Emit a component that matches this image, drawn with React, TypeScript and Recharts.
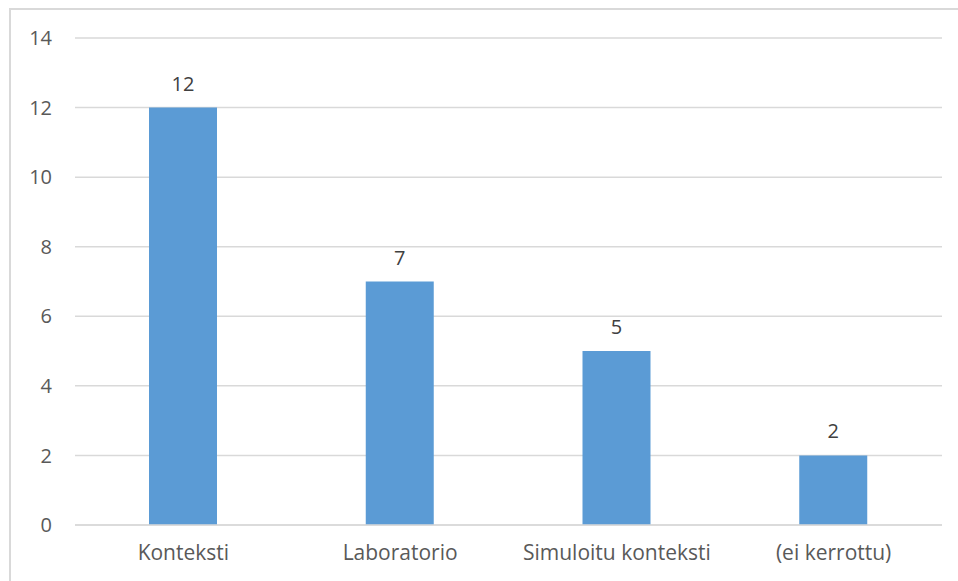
import React from 'react';
import { BarChart, Bar, XAxis, YAxis, CartesianGrid, LabelList } from 'recharts';

const categories = ['Konteksti', 'Laboratorio', 'Simuloitu konteksti', '(ei kerrottu)'];
const counts = [12, 7, 5, 2];
const yTicks = [0, 2, 4, 6, 8, 10, 12, 14];

const data = categories.map((name, i) => ({ name, count: counts[i] }));

const FONT = '"Open Sans", "Noto Sans", sans-serif';
const TEXT = '#595959';
const GRID = '#d9d9d9';

export default function App() {
  return (
    <div style={{ position: 'absolute', left: 0, top: 0, width: 958, height: 581, background: '#fff', overflow: 'hidden' }}>
      {/* chart frame: only the top and left edges show */}
      <div
        style={{
          position: 'absolute',
          left: 9,
          top: 8,
          width: 949,
          height: 573,
          boxSizing: 'border-box',
          borderTop: `2px solid ${GRID}`,
          borderLeft: `2px solid ${GRID}`,
        }}
      />
      <div style={{ position: 'absolute', left: 0, top: 0 }}>
        <BarChart
          width={958}
          height={581}
          data={data}
          margin={{ top: 38, right: 16, bottom: 0, left: 0 }}
          style={{ fontFamily: FONT }}
        >
          <CartesianGrid vertical={false} stroke={GRID} strokeWidth={1.5} />
          <XAxis
            dataKey="name"
            height={56}
            tickSize={0}
            tickMargin={20}
            axisLine={{ stroke: GRID, strokeWidth: 1.5 }}
            tickLine={false}
            tick={{ fontSize: 21, fill: TEXT, fontFamily: FONT }}
            interval={0}
          />
          <YAxis
            width={75}
            domain={[0, 14]}
            ticks={yTicks}
            tickSize={0}
            tickMargin={23}
            axisLine={false}
            tickLine={false}
            tick={{ fontSize: 20, fill: TEXT, fontFamily: FONT }}
          />
          <Bar dataKey="count" fill="#5b9bd5" barSize={68} isAnimationActive={false}>
            <LabelList dataKey="count" position="top" offset={17} fill="#404040" fontSize={20} fontFamily={FONT} />
          </Bar>
        </BarChart>
      </div>
    </div>
  );
}
